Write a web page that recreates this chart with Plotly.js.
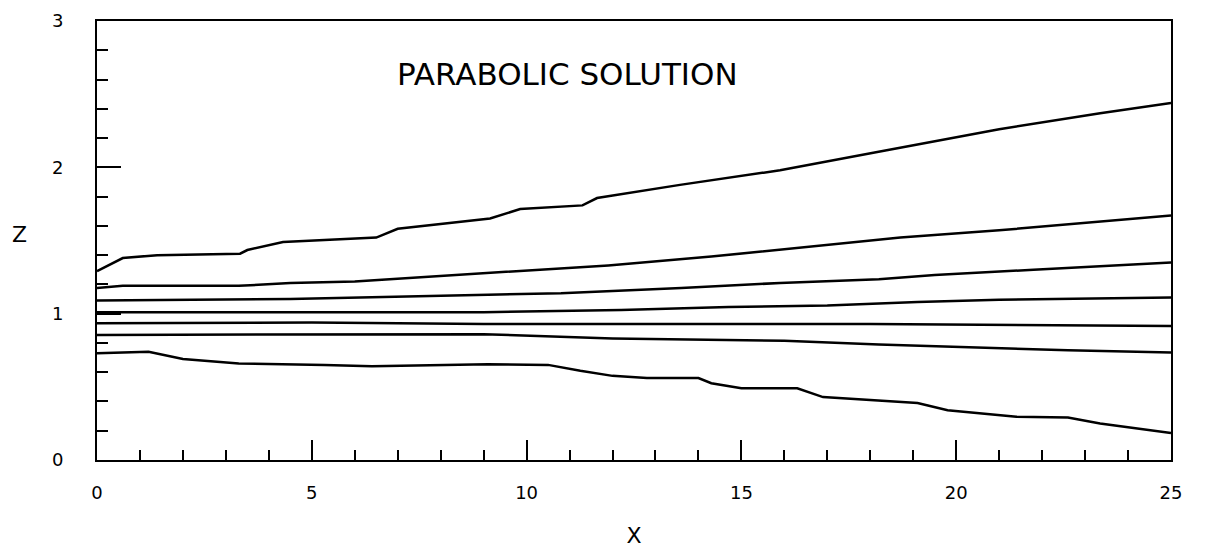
<!DOCTYPE html>
<html>
<head>
<meta charset="utf-8">
<script src="https://cdn.plot.ly/plotly-3.0.1.min.js"></script>
<style>
  html, body { margin: 0; padding: 0; background: #fff; }
  #chart { width: 1207px; height: 553px; }
</style>
</head>
<body>
<div id="chart"></div>
<script>
// Streamline curves (x, z)
const c1x = [0, 0.6, 1.4, 3.33, 3.5, 4.33, 6.5, 7.0, 9.15, 9.85, 11.3, 11.64, 13.57, 15.9, 18.07, 21.0, 23.35, 25];
const c1z = [1.29, 1.38, 1.40, 1.41, 1.435, 1.49, 1.52, 1.58, 1.65, 1.715, 1.74, 1.79, 1.88, 1.98, 2.10, 2.26, 2.37, 2.44];

const c2x = [0, 0.6, 3.3, 4.5, 6.0, 7.6, 9.1, 11.9, 14.3, 16.4, 18.7, 21.0, 23.4, 25];
const c2z = [1.175, 1.19, 1.19, 1.21, 1.22, 1.25, 1.28, 1.33, 1.39, 1.45, 1.52, 1.57, 1.63, 1.67];

const c3x = [0, 4.5, 9.1, 10.8, 13.6, 15.9, 18.2, 19.5, 21.8, 25];
const c3z = [1.09, 1.10, 1.13, 1.14, 1.175, 1.21, 1.235, 1.265, 1.30, 1.35];

const c4x = [0, 9.0, 12.2, 14.7, 17.0, 19.1, 21.0, 25];
const c4z = [1.01, 1.01, 1.025, 1.045, 1.055, 1.08, 1.095, 1.11];

const c5x = [0, 5.0, 9.0, 18.0, 25];
const c5z = [0.935, 0.94, 0.93, 0.93, 0.915];

const c6x = [0, 9.0, 12.0, 16.0, 18.2, 20.3, 22.6, 25];
const c6z = [0.855, 0.86, 0.83, 0.815, 0.79, 0.77, 0.75, 0.735];

const c7x = [0, 1.2, 2.0, 3.3, 5.3, 6.4, 9.1, 10.5, 11.25, 12.0, 12.8, 14.0, 14.3, 15.0, 16.3, 16.9, 19.1, 19.8, 21.4, 22.6, 23.35, 25];
const c7z = [0.73, 0.74, 0.69, 0.66, 0.65, 0.64, 0.655, 0.65, 0.61, 0.575, 0.56, 0.56, 0.525, 0.49, 0.49, 0.43, 0.39, 0.34, 0.295, 0.29, 0.25, 0.185];

const xTickVals = [0, 5, 10, 15, 20, 25];
const xTickText = ["0", "5", "10", "15", "20", "25"];
const yTickVals = [0, 1, 2, 3];
const yTickText = ["0", "1", "2", "3"];

const chartTitle = "PARABOLIC SOLUTION";
const xTitle = "X";
const zTitle = "Z";

const curves = [[c1x, c1z], [c2x, c2z], [c3x, c3z], [c4x, c4z], [c5x, c5z], [c6x, c6z], [c7x, c7z]];
const traces = curves.map(([x, y]) => ({
  x: x, y: y, type: "scatter", mode: "lines",
  line: { color: "#000", width: 2.5 },
  hoverinfo: "skip", showlegend: false
}));

const tickFont = { family: "DejaVu Sans", size: 18, color: "#000" };

const layout = {
  width: 1207, height: 553,
  margin: { l: 97, r: 36, t: 21, b: 93, pad: 0 },
  paper_bgcolor: "#fff", plot_bgcolor: "#fff",
  showlegend: false,
  xaxis: {
    range: [0, 25], showgrid: false, zeroline: false,
    showline: true, linecolor: "#000", linewidth: 2, mirror: true,
    ticks: "inside", ticklen: 20, tickwidth: 2, tickcolor: "#000",
    tickvals: xTickVals, ticktext: xTickText, tickfont: tickFont,
    ticklabelstandoff: 15,
    minor: { dtick: 1, ticks: "inside", ticklen: 10, tickwidth: 2, tickcolor: "#000", showgrid: false },
    title: { text: xTitle, font: { family: "DejaVu Sans", size: 22, color: "#000" }, standoff: 26 }
  },
  yaxis: {
    range: [0, 3], showgrid: false, zeroline: false,
    showline: true, linecolor: "#000", linewidth: 2, mirror: true,
    ticks: "inside", ticklen: 24, tickwidth: 2, tickcolor: "#000",
    tickvals: yTickVals, ticktext: yTickText, tickfont: tickFont,
    ticklabelstandoff: 28,
    minor: { dtick: 0.2, ticks: "inside", ticklen: 11, tickwidth: 2, tickcolor: "#000", showgrid: false }
  },
  annotations: [
    { text: chartTitle, xref: "x", yref: "y", x: 10.95, y: 2.64, showarrow: false,
      font: { family: "DejaVu Sans", size: 31, color: "#000" } },
    { text: zTitle, xref: "paper", yref: "paper", x: -0.072, y: 0.514, xanchor: "center", yanchor: "middle",
      showarrow: false, font: { family: "DejaVu Sans", size: 22, color: "#000" } }
  ]
};

Plotly.newPlot("chart", traces, layout, { staticPlot: true, displayModeBar: false });
</script>
</body>
</html>
